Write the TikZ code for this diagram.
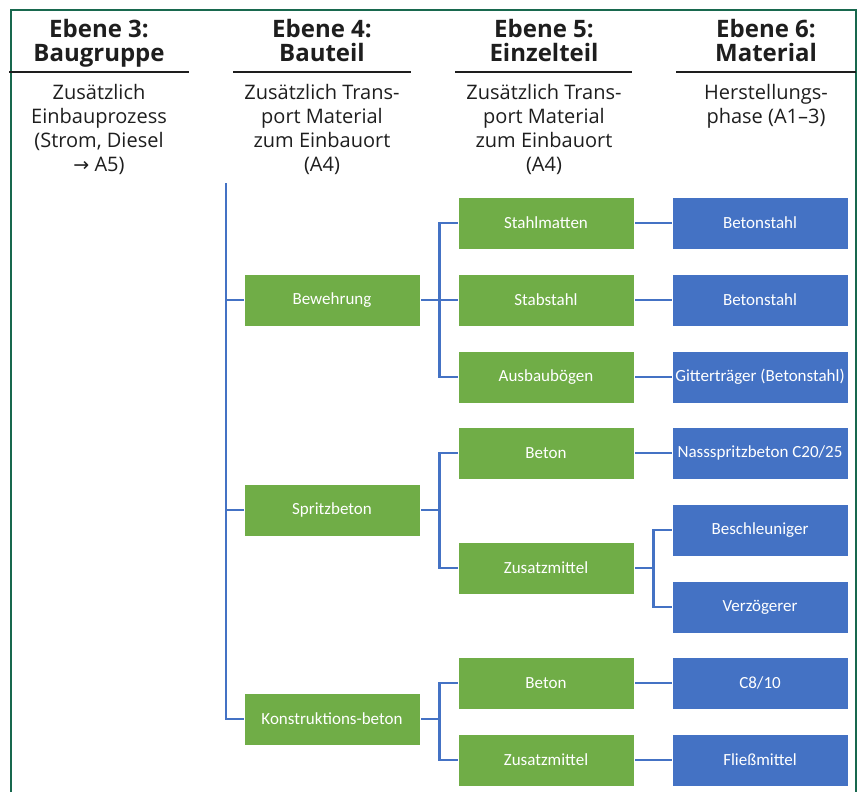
\documentclass[tikz,border=0pt]{standalone}
\usepackage{fontspec}
\setmainfont{Open Sans}
\newfontfamily\boxfont{Carlito}
\newfontfamily\symbolfont{DejaVu Sans}
\usetikzlibrary{backgrounds}
\definecolor{framegreen}{RGB}{24,104,78}
\definecolor{levelgreen}{RGB}{112,173,71}
\definecolor{levelblue}{RGB}{68,114,196}
\definecolor{ink}{RGB}{30,30,30}

\begin{document}
\begin{tikzpicture}[x=1pt,y=-1pt,
  part/.style={fill=levelgreen, draw=white, line width=1pt,
    minimum width=176pt, minimum height=52pt, inner sep=0pt,
    text=white, font=\boxfont\fontsize{17}{20}\selectfont},
  mat/.style={part, fill=levelblue},
  link/.style={draw=levelblue, line width=2.4pt},
  title/.style={font=\bfseries\fontsize{24}{23.3}\selectfont,
    align=center, anchor=north, inner sep=0pt, text=ink},
  note/.style={font=\fontsize{20}{24}\selectfont,
    align=center, anchor=north, inner sep=0pt, text=ink},
  rule/.style={line width=1.8pt, draw=ink}]

\useasboundingbox (0,0) rectangle (858,792);

% open frame around the chart
\draw[framegreen, line width=2.2pt] (11,792) -- (11,10) -- (856,10) -- (856,792);

% column headings
\node[title] (h3) at (99,19.5)  {Ebene 3:\\Baugruppe};
\node[title] (h4) at (322,19.5) {Ebene 4:\\Bauteil};
\node[title] (h5) at (544,19.5) {Ebene 5:\\Einzelteil};
\node[title] (h6) at (766,19.5) {Ebene 6:\\Material};

\draw[rule] (9,72) -- (189,72);
\draw[rule] (233,72) -- (411,72);
\draw[rule] (455,72) -- (632,72);
\draw[rule] (676,72) -- (856,72);

\node[note] (n3) at (99,84.5)  {Zusätzlich\\Einbauprozess\\(Strom, Diesel\\{\symbolfont\fontsize{19}{24}\selectfont →} A5)};
\node[note] (n4) at (322,84.5) {Zusätzlich Trans-\\port Material\\zum Einbauort\\(A4)};
\node[note] (n5) at (544,84.5) {Zusätzlich Trans-\\port Material\\zum Einbauort\\(A4)};
\node[note] (n6) at (766,84.5) {Herstellungs-\\phase (A1--3)};

% level 4: components
\node[part] (bew) at (332,300) {Bewehrung};
\node[part] (spr) at (332,510) {Spritzbeton};
\node[part] (kon) at (332,719) {Konstruktions-beton};

% level 5: single parts
\node[part] (stm)  at (546,223) {Stahlmatten};
\node[part] (stb)  at (546,300) {Stabstahl};
\node[part] (aus)  at (546,377) {Ausbaubögen};
\node[part] (bet1) at (546,453) {Beton};
\node[part] (zus1) at (546,568) {Zusatzmittel};
\node[part] (bet2) at (546,683) {Beton};
\node[part] (zus2) at (546,760) {Zusatzmittel};

% level 6: materials
\node[mat] (m1) at (760,223) {Betonstahl};
\node[mat] (m2) at (760,300) {Betonstahl};
\node[mat] (m3) at (760,377) {Gitterträger (Betonstahl)};
\node[mat] (m4) at (760,453) {Nassspritzbeton C20/25};
\node[mat] (m5) at (760,530) {Beschleuniger};
\node[mat] (m6) at (760,607) {Verzögerer};
\node[mat] (m7) at (760,683) {C8/10};
\node[mat] (m8) at (760,760) {Fließmittel};

% connectors
\begin{scope}[on background layer]
  \coordinate (trunk) at (226,183);
  \draw[link] (trunk) |- (bew.west);
  \draw[link] (trunk) |- (spr.west);
  \draw[link] (trunk) |- (kon.west);

  \draw[link] (bew.east) -- ++(19,0) |- (stm.west);
  \draw[link] (bew.east) -- (stb.west);
  \draw[link] (bew.east) -- ++(19,0) |- (aus.west);

  \draw[link] (spr.east) -- ++(19,0) |- (bet1.west);
  \draw[link] (spr.east) -- ++(19,0) |- (zus1.west);

  \draw[link] (kon.east) -- ++(19,0) |- (bet2.west);
  \draw[link] (kon.east) -- ++(19,0) |- (zus2.west);

  \draw[link] (zus1.east) -- ++(19,0) |- (m5.west);
  \draw[link] (zus1.east) -- ++(19,0) |- (m6.west);

  \draw[link] (stm.east) -- (m1.west);
  \draw[link] (stb.east) -- (m2.west);
  \draw[link] (aus.east) -- (m3.west);
  \draw[link] (bet1.east) -- (m4.west);
  \draw[link] (bet2.east) -- (m7.west);
  \draw[link] (zus2.east) -- (m8.west);
\end{scope}
\end{tikzpicture}
\end{document}
